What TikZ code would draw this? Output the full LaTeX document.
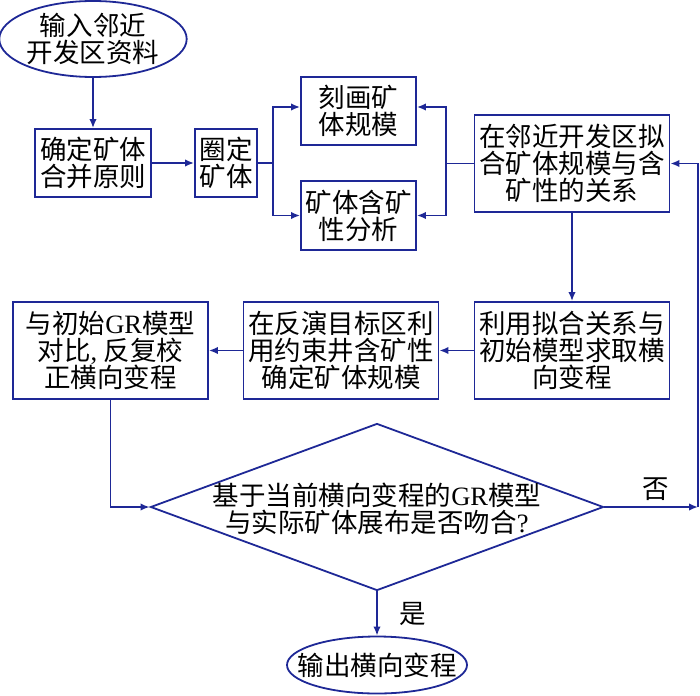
\documentclass[tikz,border=0pt]{standalone}
\usepackage{fontspec}
\setmainfont{Liberation Serif}
\newfontfamily\cjk{Noto Sans CJK SC}
\usepackage{tikz}
\usetikzlibrary{arrows.meta,shapes.geometric}
\definecolor{lineblue}{RGB}{30,40,150}

\begin{document}
\begin{tikzpicture}[x=1pt,y=-1pt,
			txt/.style={align=center,font=\cjk\fontsize{26.5}{27}\selectfont},
			box/.style={txt,draw=lineblue,line width=1.8pt,inner sep=0pt},
			flow/.style={draw=lineblue,line width=1.8pt,-{Latex[length=9pt,width=7.5pt]}}]
			\useasboundingbox (0,0) rectangle (700,695);
			\node[box,ellipse,minimum width=184pt,minimum height=76pt] (in1) at (93,39) {输入邻近\\开发区资料};
			\node[box,minimum width=116pt,minimum height=68pt] (b1) at (93,163) {确定矿体\\合并原则};
			\node[box,minimum width=62pt,minimum height=68pt] (b2) at (226,163) {圈定\\矿体};
			\node[box,minimum width=115pt,minimum height=68pt] (b3) at (358.5,111) {刻画矿\\体规模};
			\node[box,minimum width=115pt,minimum height=69pt] (b4) at (358.5,215.5) {矿体含矿\\性分析};
			\node[box,minimum width=195pt,minimum height=97pt] (b5) at (572,163.5) {在邻近开发区拟\\合矿体规模与含\\矿性的关系};
			\node[box,minimum width=195pt,minimum height=97pt] (b6) at (572,350.5) {利用拟合关系与\\初始模型求取横\\向变程};
			\node[box,minimum width=195pt,minimum height=97pt] (b7) at (341,350.5) {在反演目标区利\\用约束井含矿性\\确定矿体规模};
			\node[box,minimum width=195pt,minimum height=97pt] (b8) at (110.5,350.5) {与初始\textrm{GR}模型\\对比\textrm{, }反复校\\正横向变程};
			\node[box,diamond,minimum width=453pt,minimum height=167pt,
				label={[txt,yshift=-2pt]center:{基于当前横向变程的\textrm{GR}模型\\与实际矿体展布是否吻合\textrm{?}}}] (dec) at (377,507) {};
			\node[box,ellipse,inner xsep=-20pt,minimum width=180pt,minimum height=57pt] (out) at (377,665) {输出横向变程};
			\coordinate (cno) at (698,507);
			% connectors
			\draw[flow] (in1.south) -- (b1.north);
			\draw[flow] (b1) -- (b2);
			\draw[flow] (b2.east) -- ++(15,0) |- ([yshift=4pt]b3.west);
			\draw[flow] (b2.east) -- ++(15,0) |- (b4.west);
			\draw[flow] (b5.west) -- ++(-28,0) |- ([yshift=4pt]b3.east);
			\draw[flow] (b5.west) -- ++(-28,0) |- (b4.east);
			\draw[flow] (b5) -- (b6);
			\draw[flow] (b6) -- (b7);
			\draw[flow] (b7) -- (b8);
			\draw[flow] (b8.south) |- (dec.west);
			\draw[flow] (dec.east) -- (cno) node[txt,pos=0.55,above=2pt]{否};
			\draw[flow] (cno) |- (b5.east);
			\draw[flow] (dec) -- (out) node[txt,midway,right=18pt]{是};
			\end{tikzpicture}
\end{document}
